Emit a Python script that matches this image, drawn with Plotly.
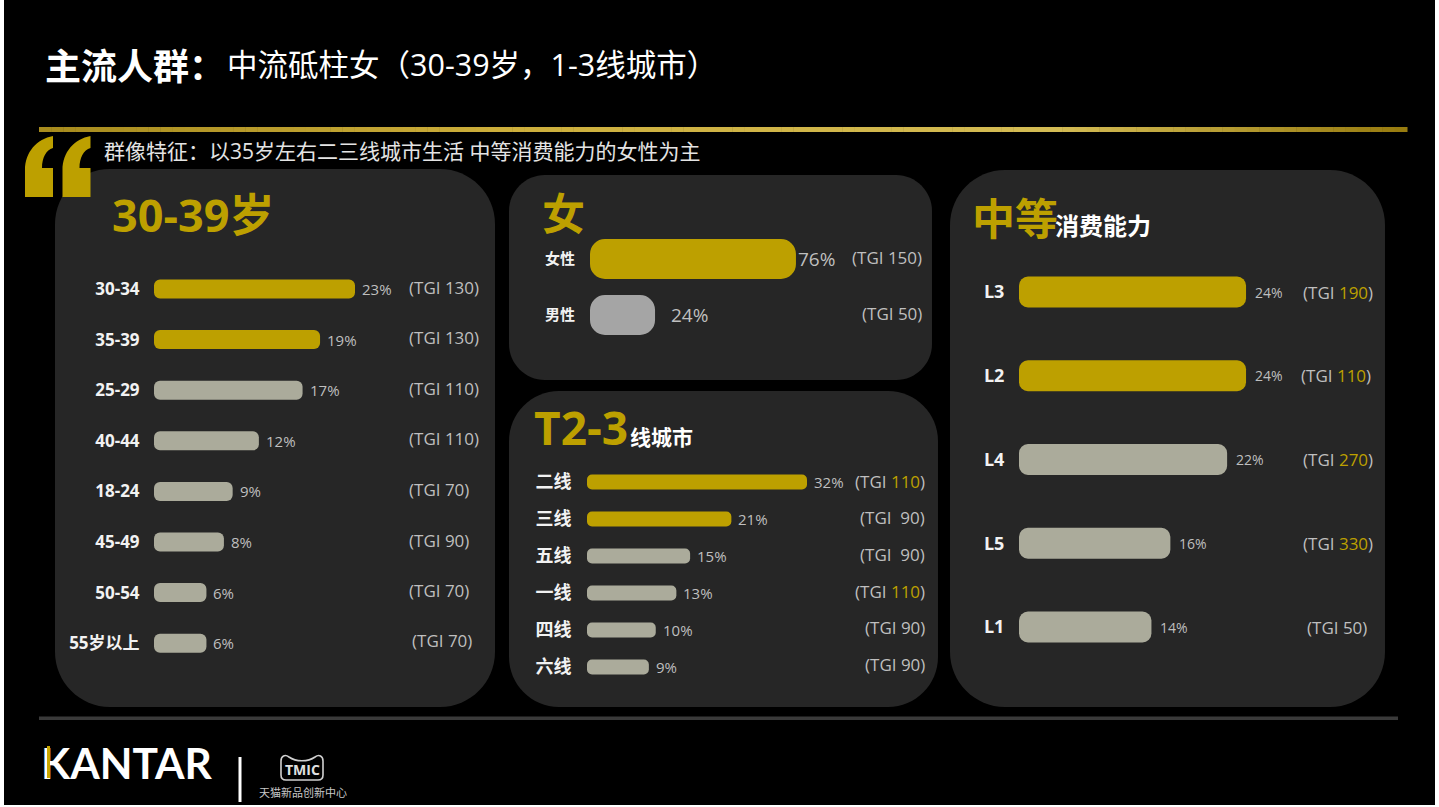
import plotly.graph_objects as go

W, H = 1439, 807
FONT = "Open Sans, Noto Sans CJK SC, sans-serif"
CJK = "Noto Sans CJK SC, sans-serif"
GOLD = "#BDA000"
GREY = "#ABAB9B"
PANEL = "#262626"
TEXT = "#BFBFBF"

# data
age_cats = ["30-34", "35-39", "25-29", "40-44", "18-24", "45-49", "50-54", "55岁以上"]
age_vals = [23, 19, 17, 12, 9, 8, 6, 6]
age_tgi = [130, 130, 110, 110, 70, 90, 70, 70]
age_hot = [True, True, False, False, False, False, False, False]

sex_cats = ["女性", "男性"]
sex_vals = [76, 24]
sex_tgi = [150, 50]
sex_hot = [True, False]

city_cats = ["二线", "三线", "五线", "一线", "四线", "六线"]
city_vals = [32, 21, 15, 13, 10, 9]
city_tgi = [110, 90, 90, 110, 90, 90]
city_hot = [True, True, False, False, False, False]
city_tgi_hot = [True, False, False, True, False, False]

level_cats = ["L3", "L2", "L4", "L5", "L1"]
level_vals = [24, 24, 22, 16, 14]
level_tgi = [190, 110, 270, 330, 50]
level_hot = [True, True, False, False, False]
level_tgi_hot = [True, True, True, True, False]


def fx(x):
    return x / W


def fy(y):
    return 1 - y / H


def rounded(x0, y0, x1, y1, r):
    k = r * 0.45
    p = lambda x, y: f"{fx(x):.5f},{fy(y):.5f}"
    return (
        f"M {p(x0 + r, y0)} L {p(x1 - r, y0)} "
        f"C {p(x1 - k, y0)} {p(x1, y0 + k)} {p(x1, y0 + r)} L {p(x1, y1 - r)} "
        f"C {p(x1, y1 - k)} {p(x1 - k, y1)} {p(x1 - r, y1)} L {p(x0 + r, y1)} "
        f"C {p(x0 + k, y1)} {p(x0, y1 - k)} {p(x0, y1 - r)} L {p(x0, y0 + r)} "
        f"C {p(x0, y0 + k)} {p(x0 + k, y0)} {p(x0 + r, y0)} Z"
    )


shapes = []
annotations = []


def box(x0, y0, x1, y1, color):
    shapes.append(dict(type="rect", xref="paper", yref="paper", x0=fx(x0), x1=fx(x1), y0=fy(y0), y1=fy(y1),
                       fillcolor=color, line_width=0, layer="below"))


def label(x, y, text, size, color="#FFFFFF", anchor="left", bold=False, family=FONT):
    annotations.append(dict(xref="paper", yref="paper", x=fx(x), y=fy(y), text=text, showarrow=False,
                            xanchor=anchor, yanchor="middle", align=anchor,
                            font=dict(family=family, size=size, color=color, weight=700 if bold else 400)))


# page background
box(4, 0, 1435, 805, "#000000")

# panels
for x0, y0, x1, y1, r in [(55, 169, 495, 707, 55), (509, 175, 932, 380, 36),
                          (509, 391, 938, 707, 50), (950, 170, 1385, 707, 55)]:
    shapes.append(dict(type="path", xref="paper", yref="paper", path=rounded(x0, y0, x1, y1, r),
                       fillcolor=PANEL, line_width=0, layer="below"))

# gold rule, fades along its length
stops = [(39, (168, 140, 30)), (500, (205, 175, 60)), (1050, (212, 188, 85)), (1407, (150, 122, 14))]
for i in range(len(stops) - 1):
    (xa, ca), (xb, cb) = stops[i], stops[i + 1]
    steps = int((xb - xa) / 12)
    for s in range(steps):
        t = s / steps
        c = tuple(int(ca[j] + (cb[j] - ca[j]) * t) for j in range(3))
        box(xa + (xb - xa) * s / steps, 127, xa + (xb - xa) * (s + 1) / steps + 0.5, 132, f"rgb{c}")

box(39, 716.5, 1398, 720, "#3A3A3A")

# big quote mark
for dx in [0, 37.5]:
    p = lambda x, y: f"{fx(x + dx):.5f},{fy(y):.5f}"
    shapes.append(dict(type="path", xref="paper", yref="paper", layer="below", fillcolor=GOLD, line_width=0,
                       path=f"M {p(25, 197)} L {p(25, 170)} C {p(25, 152)} {p(37, 139)} {p(53, 136)} "
                            f"L {p(53, 148)} C {p(46, 150)} {p(42, 158)} {p(42, 168)} L {p(53, 168)} L {p(53, 197)} Z"))

# footer marks
box(238.5, 757, 241.5, 802, "#FFFFFF")
c = lambda x, y: f"{fx(x):.5f},{fy(y):.5f}"
shapes.append(dict(type="path", xref="paper", yref="paper", layer="below", line=dict(color="#D0D0D0", width=1.6),
                   path=f"M {c(286, 780)} C {c(282, 780)} {c(281, 778)} {c(281, 775)} L {c(281, 761)} "
                        f"C {c(281, 756)} {c(285, 754)} {c(289, 757)} C {c(296, 762)} {c(308, 762)} {c(315, 757)} "
                        f"C {c(319, 754)} {c(323, 756)} {c(323, 761)} L {c(323, 775)} "
                        f"C {c(323, 778)} {c(321, 780)} {c(318, 780)} Z"))

# titles and captions
label(43, 64, "主流人群：", 36, bold=True, family=CJK)
label(225, 64, "中流砥柱女（30-39岁，1-3线城市）", 30.5)
label(102, 151, "群像特征：以35岁左右二三线城市生活 中等消费能力的女性为主", 21, color="#E4E4E4")
label(110, 215, "30-39岁", 45, color=GOLD, bold=True)
label(540, 213, "女", 43, color=GOLD, bold=True)
label(532, 427, "T2-3", 46, color=GOLD, bold=True)
label(628, 437, "线城市", 21, bold=True)
label(970, 218, "中等", 43, color=GOLD, bold=True)
label(1053, 225, "消费能力", 24, bold=True)
label(39, 762, "KANTAR", 42.5, bold=True, family="Lato, sans-serif")
label(302, 769, "TMIC", 14, bold=True, anchor="center", color="#E0E0E0")
label(303, 792, "天猫新品创新中心", 11, anchor="center", color="#C8C8C8")
# gold edge on the K stem has to sit above the logo text
annotations.append(dict(xref="paper", yref="paper", x=fx(48.5), y=fy(762), text=" ", showarrow=False, width=3, height=32,
                        xanchor="center", yanchor="middle", bgcolor="#C9A800", borderpad=0, borderwidth=0))

fig = go.Figure()


def add_chart(idx, cats, vals, hot, x0, per_unit, y_first, step, bar_h, radius, tick_size, tick_gap, pct_size, pct_gaps,
              cold=GREY):
    name = "" if idx == 1 else str(idx)
    n = len(cats)
    top = max(vals) * 1.3
    # an explicit base makes plotly round both ends of the bar
    fig.add_trace(go.Bar(
        y=cats, x=vals, base=[0] * n, orientation="h", xaxis="x" + name, yaxis="y" + name, showlegend=False,
        width=bar_h / step,
        marker=dict(color=[GOLD if h else cold for h in hot], cornerradius=radius, line_width=0),
    ))
    fig.update_layout({
        "xaxis" + name: dict(domain=[fx(x0), fx(x0 + per_unit * top)], range=[0, top], visible=False, fixedrange=True,
                             anchor="y" + name),
        "yaxis" + name: dict(
            domain=[fy(y_first + (n - 0.5) * step), fy(y_first - 0.5 * step)],
            anchor="x" + name,
            type="category", categoryorder="array", categoryarray=cats, range=[n - 0.5, -0.5],
            showgrid=False, zeroline=False, showline=False, ticks="outside", ticklen=tick_gap,
            tickcolor="rgba(0,0,0,0)", tickfont=dict(family=FONT, size=tick_size, color="#F2F2F2", weight=700),
            fixedrange=True,
        ),
    })
    for cat, v, gap in zip(cats, vals, pct_gaps):
        annotations.append(dict(xref="x" + name, yref="y" + name, x=v, y=cat, text=f"{v}%", showarrow=False,
                                xanchor="left", xshift=gap,
                                font=dict(family=FONT, size=pct_size, color=TEXT)))


add_chart(1, age_cats, age_vals, age_hot, 154, 8.74, 289, 50.6, 19, 6, 17, 10, 15, [5] * 8)
add_chart(2, sex_cats, sex_vals, sex_hot, 590, 2.71, 259, 56, 40, 15, 15, 11, 19, [0, 14], cold="#A5A5A5")
add_chart(3, city_cats, city_vals, city_hot, 587, 6.875, 482, 37, 15, 5, 18, 11, 15, [5] * 6)
add_chart(4, level_cats, level_vals, level_hot, 1019, 9.46, 292, 83.75, 31, 9, 18, 10, 14, [7] * 5)


def tgi_text(v, gold=False, pad=" "):
    if gold:
        return f'(TGI{pad}<span style="color:{GOLD}">{v}</span>)'
    return f"(TGI{pad}{v})"


def tgi_note(name, cat, x, anchor, text, lift=0):
    annotations.append(dict(xref="paper", yref="y" + name, x=fx(x), y=cat, text=text, showarrow=False, xanchor=anchor,
                            yshift=lift, font=dict(family=FONT, size=17, color=TEXT)))


for i, (cat, v) in enumerate(zip(age_cats, age_tgi)):
    tgi_note("", cat, 410 if i == 7 else 407, "left", tgi_text(v), lift=3 if i == 7 else 2)
for cat, v in zip(sex_cats, sex_tgi):
    tgi_note("2", cat, 924, "right", tgi_text(v), lift=1)
city_lift = [1, 2, 2, 2, 3, 3]
city_pad = [" ", "\u00a0\u00a0", "\u00a0\u00a0", " ", " ", " "]
for cat, v, g, up, pad in zip(city_cats, city_tgi, city_tgi_hot, city_lift, city_pad):
    tgi_note("3", cat, 927, "right", tgi_text(v, g, pad), lift=up)
for cat, v, g, x in zip(level_cats, level_tgi, level_tgi_hot, [1338, 1336, 1338, 1338, 1337]):
    tgi_note("4", cat, x, "center", tgi_text(v, g), lift=0)

fig.update_layout(
    width=W,
    height=H,
    margin=dict(l=0, r=0, t=0, b=0),
    paper_bgcolor="#FFFFFF",
    plot_bgcolor="rgba(0,0,0,0)",
    font=dict(family=FONT),
    shapes=shapes,
    annotations=annotations,
    barmode="overlay",
)

fig.write_html(
    "out.html",
    config=dict(displayModeBar=False),
    post_script="document.body.style.margin='0';document.body.style.overflow='hidden';",
)
